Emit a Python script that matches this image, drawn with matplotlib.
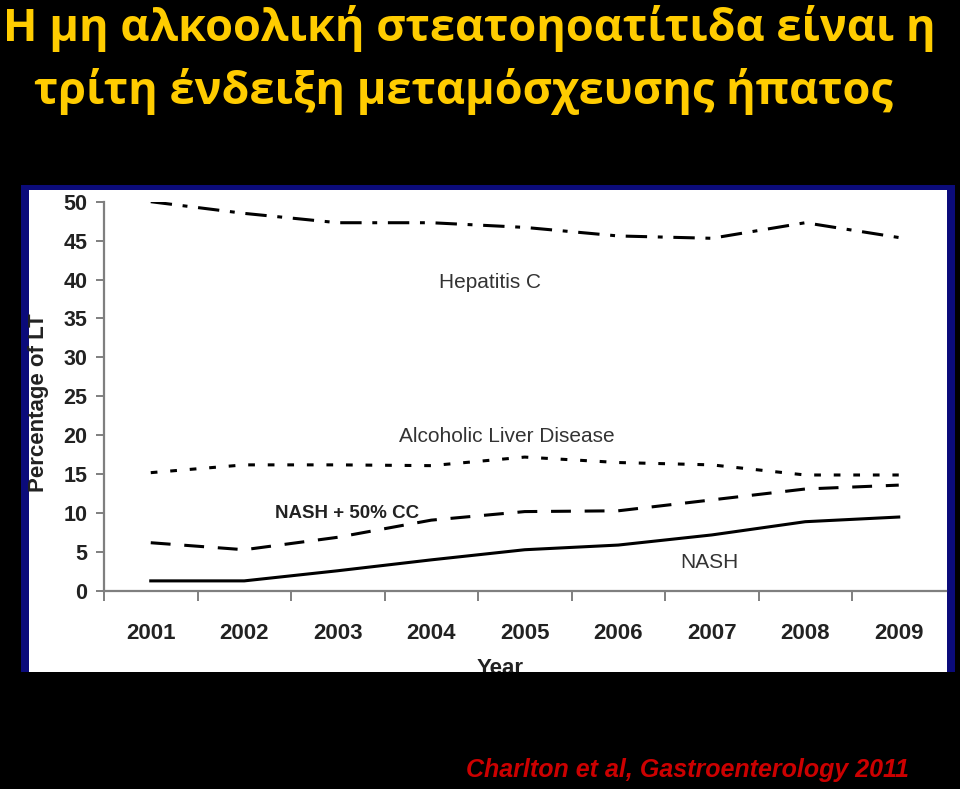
import matplotlib
matplotlib.use("Agg")
import matplotlib.pyplot as plt
from matplotlib.patches import Rectangle

# data
years = ["2001", "2002", "2003", "2004", "2005", "2006", "2007", "2008", "2009"]
hep_c = [50.0, 48.5, 47.3, 47.3, 46.7, 45.6, 45.3, 47.3, 45.4]
ald = [15.2, 16.2, 16.2, 16.1, 17.2, 16.5, 16.2, 14.9, 14.9]
nash_cc = [6.2, 5.3, 6.9, 9.1, 10.2, 10.3, 11.7, 13.1, 13.6]
nash = [1.3, 1.3, 2.6, 4.0, 5.3, 5.9, 7.2, 8.9, 9.5]
y_ticks = [0, 5, 10, 15, 20, 25, 30, 35, 40, 45, 50]

W, H = 960, 789
fig = plt.figure(figsize=(W / 100, H / 100), dpi=100, facecolor="black")


def fx(px):
    return px / W


def fy(py):
    return 1 - py / H


# -----------------------------------------------------------
# slide title + citation
# -----------------------------------------------------------
title_font = ["Open Sans", "Noto Sans", "DejaVu Sans"]
fig.text(fx(3), fy(41), "Η μη αλκοολική στεατοηοατίτιδα είναι η",
         color="#FFCC00", fontsize=32.5, fontweight="bold", family=title_font,
         ha="left", va="baseline")
fig.text(fx(34), fy(104), "τρίτη ένδειξη μεταμόσχευσης ήπατος",
         color="#FFCC00", fontsize=32.5, fontweight="bold", family=title_font,
         ha="left", va="baseline")
fig.text(fx(466), fy(777), "Charlton et al, Gastroenterology 2011",
         color="#CC0000", fontsize=18, fontweight="bold", fontstyle="italic",
         family="Liberation Sans", ha="left", va="baseline")

# -----------------------------------------------------------
# pasted chart panel (navy frame, white inside)
# -----------------------------------------------------------
frame = Rectangle((fx(21), fy(672)), fx(955) - fx(21), fy(185) - fy(672),
                  transform=fig.transFigure, facecolor="#0B0B7A", edgecolor="none", zorder=-2)
inner = Rectangle((fx(29), fy(672)), fx(947) - fx(29), fy(190) - fy(672),
                  transform=fig.transFigure, facecolor="white", edgecolor="none", zorder=-1)
fig.patches.extend([frame, inner])

ax = fig.add_axes([fx(104), fy(591), fx(945.5) - fx(104), fy(201.7) - fy(591)])
ax.set_facecolor("none")

x = list(range(1, len(years) + 1))
lw = 2.2
ax.plot(x, hep_c, color="black", lw=lw, dashes=(7, 3.5, 1.6, 3.5), solid_capstyle="butt")
ax.plot(x, ald, color="black", lw=lw, dashes=(2.2, 4.2))
ax.plot(x, nash_cc, color="black", lw=lw, dashes=(6.5, 4.5))
ax.plot(x, nash, color="black", lw=lw)

ax.set_xlim(0.5, len(years) + 0.5)
ax.set_ylim(0, 50)

for side in ["top", "right"]:
    ax.spines[side].set_visible(False)
for side in ["left", "bottom"]:
    ax.spines[side].set_color("#7F7F7F")
    ax.spines[side].set_linewidth(1.6)

ax.set_yticks(y_ticks)
ax.set_yticklabels([str(v) for v in y_ticks])
ax.tick_params(axis="y", length=6, width=1.4, color="#7F7F7F", pad=6,
               labelsize=15.5, labelcolor="#222222")

ax.set_xticks(x)
ax.set_xticklabels(years)
ax.set_xticks([v + 0.5 for v in range(len(years))], minor=True)
ax.tick_params(axis="x", which="major", length=0, pad=23, labelsize=16, labelcolor="#222222")
ax.tick_params(axis="x", which="minor", length=7, width=1.4, color="#7F7F7F", direction="out")
for lab in ax.get_xticklabels() + ax.get_yticklabels():
    lab.set_fontweight("bold")
    lab.set_family("Liberation Sans")

# series names inside the plot
ax.text(4.63, 39.6, "Hepatitis C", fontsize=15, color="#333333",
        family="Liberation Sans", ha="center", va="center")
ax.text(4.81, 19.8, "Alcoholic Liver Disease", fontsize=15, color="#333333",
        family="Liberation Sans", ha="center", va="center")
ax.text(3.1, 9.9, "NASH + 50% CC", fontsize=13.5, color="#222222", fontweight="bold",
        family="Liberation Sans", ha="center", va="center")
ax.text(6.97, 3.7, "NASH", fontsize=15, color="#333333",
        family="Liberation Sans", ha="center", va="center")

# axis titles (Year is cut off by the bottom of the panel)
fig.text(fx(39), fy(403), "Percentage of LT", rotation=90, fontsize=16,
         fontweight="bold", color="#222222", family="Liberation Sans",
         ha="center", va="center")
year_lab = fig.text(fx(500), fy(668), "Year", fontsize=16, fontweight="bold",
                    color="#222222", family="Liberation Sans", ha="center", va="center")
year_lab.set_clip_path(inner)

fig.savefig("out.png", dpi=100, facecolor="black")
